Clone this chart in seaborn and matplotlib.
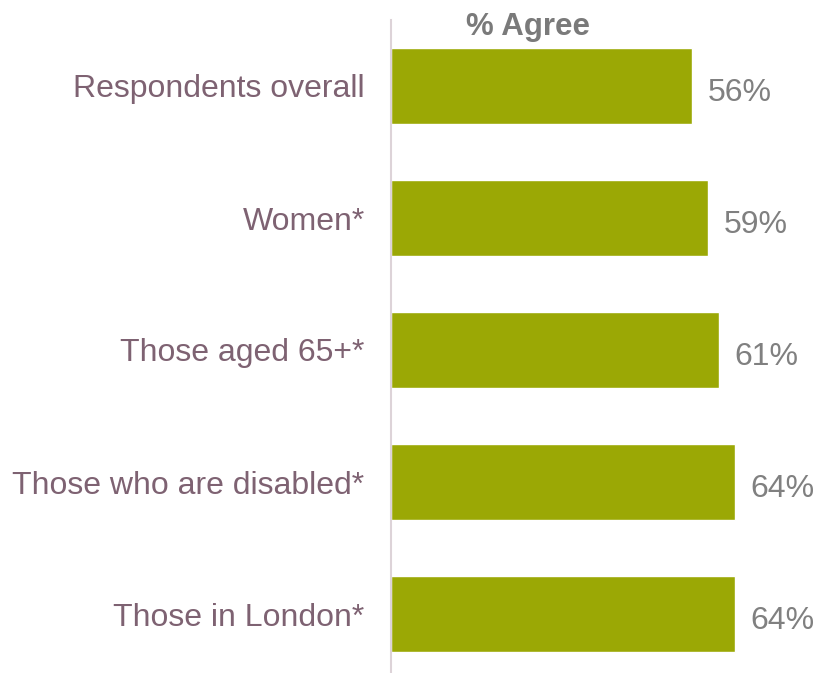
import matplotlib
matplotlib.use("Agg")
import matplotlib.pyplot as plt
import seaborn as sns
import pandas as pd

categories = ["Respondents overall", "Women*", "Those aged 65+*",
              "Those who are disabled*", "Those in London*"]
values = [56, 59, 61, 64, 64]
title_text = "% Agree"

sns.set_theme(style="white")
plt.rcParams['font.family'] = ['Liberation Sans', 'DejaVu Sans']

df = pd.DataFrame({"category": categories, "value": values})

W, H = 819, 673
fig = plt.figure(figsize=(W / 100, H / 100), dpi=100)
ax = fig.add_axes([391 / W, (H - 680) / H, (W - 391) / W, 660 / H])

sns.barplot(data=df, x="value", y="category", orient="h", color="#9BA805",
            saturation=1, width=0.57, ax=ax)

ax.set_xlim(0, 79.6)
ax.set_ylim(4.5, -0.5)
ax.set_xlabel("")
ax.set_ylabel("")
ax.set_xticks([])
for s in ["top", "right", "bottom"]:
    ax.spines[s].set_visible(False)
ax.spines["left"].set_color("#DDD3D8")
ax.spines["left"].set_linewidth(1.5)
ax.tick_params(axis="y", length=0, pad=19, labelsize=23, labelcolor="#7E6272")

for i, v in enumerate(values):
    ax.text(v + 2.9, i + 0.05, f"{v}%", va="center", ha="left",
            fontsize=23, color="#808080")

ax.text(25.4, -0.45, title_text, ha="center", va="center", fontsize=22.5,
        fontweight="bold", color="#7A7A7A", clip_on=False)

fig.savefig("out.png", dpi=100)
